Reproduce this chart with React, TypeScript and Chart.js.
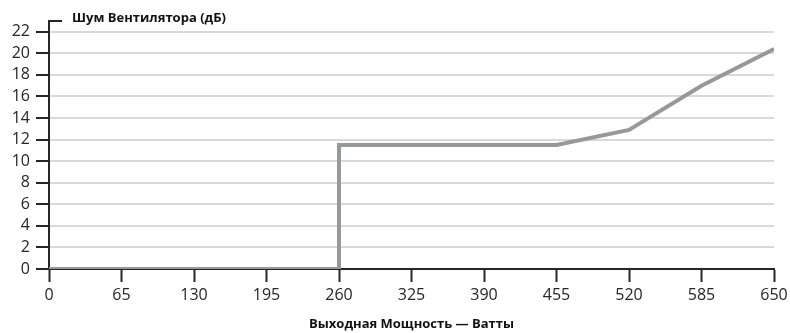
import React, { useEffect, useRef } from "react";
import { Chart, registerables } from "chart.js";

Chart.register(...registerables);

const powerWatts = [0, 260, 260, 455, 520, 585, 650];
const noiseDb = [0, 0, 11.5, 11.5, 12.9, 17, 20.4];
const xTitle = "Выходная Мощность — Ватты";
const yTitle = "Шум Вентилятора (дБ)";

const FONT = "'Open Sans', 'DejaVu Sans', sans-serif";
const DARK = "#262626";

const yTitlePlugin = {
  id: "yTitlePlugin",
  afterDraw(chart: any) {
    const { ctx, chartArea } = chart;
    ctx.save();
    ctx.strokeStyle = DARK;
    ctx.lineWidth = 2;
    ctx.beginPath();
    ctx.moveTo(chartArea.left - 1, chartArea.top);
    ctx.lineTo(chartArea.left + 13, chartArea.top);
    ctx.stroke();
    ctx.fillStyle = "#111";
    ctx.font = `bold 13px ${FONT}`;
    ctx.textBaseline = "middle";
    ctx.textAlign = "left";
    ctx.fillText(yTitle, chartArea.left + 23, chartArea.top - 3);
    ctx.restore();
  },
};

export default function App() {
  const ref = useRef<HTMLCanvasElement | null>(null);
  useEffect(() => {
    if (!ref.current) return;
    const data = powerWatts.map((x, i) => ({ x, y: noiseDb[i] }));
    const chart = new Chart(ref.current, {
      type: "line",
      data: {
        datasets: [
          {
            data,
            borderColor: "#97989b",
            borderWidth: 4,
            pointRadius: 0,
            tension: 0,
            fill: false,
          },
        ],
      },
      options: {
        animation: false,
        responsive: false,
        maintainAspectRatio: false,
        layout: { padding: { left: 0, right: 16, top: 21, bottom: 0 } },
        plugins: { legend: { display: false }, tooltip: { enabled: false } },
        scales: {
          x: {
            type: "linear",
            min: 0,
            max: 650,
            grid: {
              drawOnChartArea: false,
              drawTicks: true,
              tickLength: 13,
              tickColor: DARK,
              tickWidth: 2,
            },
            border: { display: true, color: DARK, width: 2 },
            ticks: {
              stepSize: 65,
              color: DARK,
              font: { family: FONT, size: 16 },
              padding: 4,
              maxRotation: 0,
              autoSkip: false,
            },
            title: {
              display: true,
              text: xTitle,
              color: "#111",
              font: { family: FONT, size: 13, weight: "bold" },
              padding: { top: 0, bottom: 1 },
            },
            afterFit(scale: any) {
              scale.height = 64;
              scale.paddingLeft = 0;
              scale.paddingRight = 0;
            },
          },
          y: {
            type: "linear",
            min: 0,
            max: 23,
            grid: {
              color: "#d9d9d9",
              lineWidth: 2,
              drawTicks: true,
              tickLength: 13,
              tickColor: DARK,
              tickWidth: 2,
            },
            border: { display: true, color: DARK, width: 2 },
            ticks: {
              stepSize: 2,
              includeBounds: false,
              color: DARK,
              font: { family: FONT, size: 16 },
              padding: 6,
            },
            afterFit(scale: any) {
              scale.width = 49;
              scale.paddingTop = 0;
              scale.paddingBottom = 0;
            },
          },
        },
      },
      plugins: [yTitlePlugin],
    } as any);
    return () => chart.destroy();
  }, []);
  return (
    <div style={{ position: "fixed", left: 0, top: 0, width: 790, height: 333 }}>
      <canvas ref={ref} width={790} height={333} style={{ width: 790, height: 333 }} />
    </div>
  );
}
